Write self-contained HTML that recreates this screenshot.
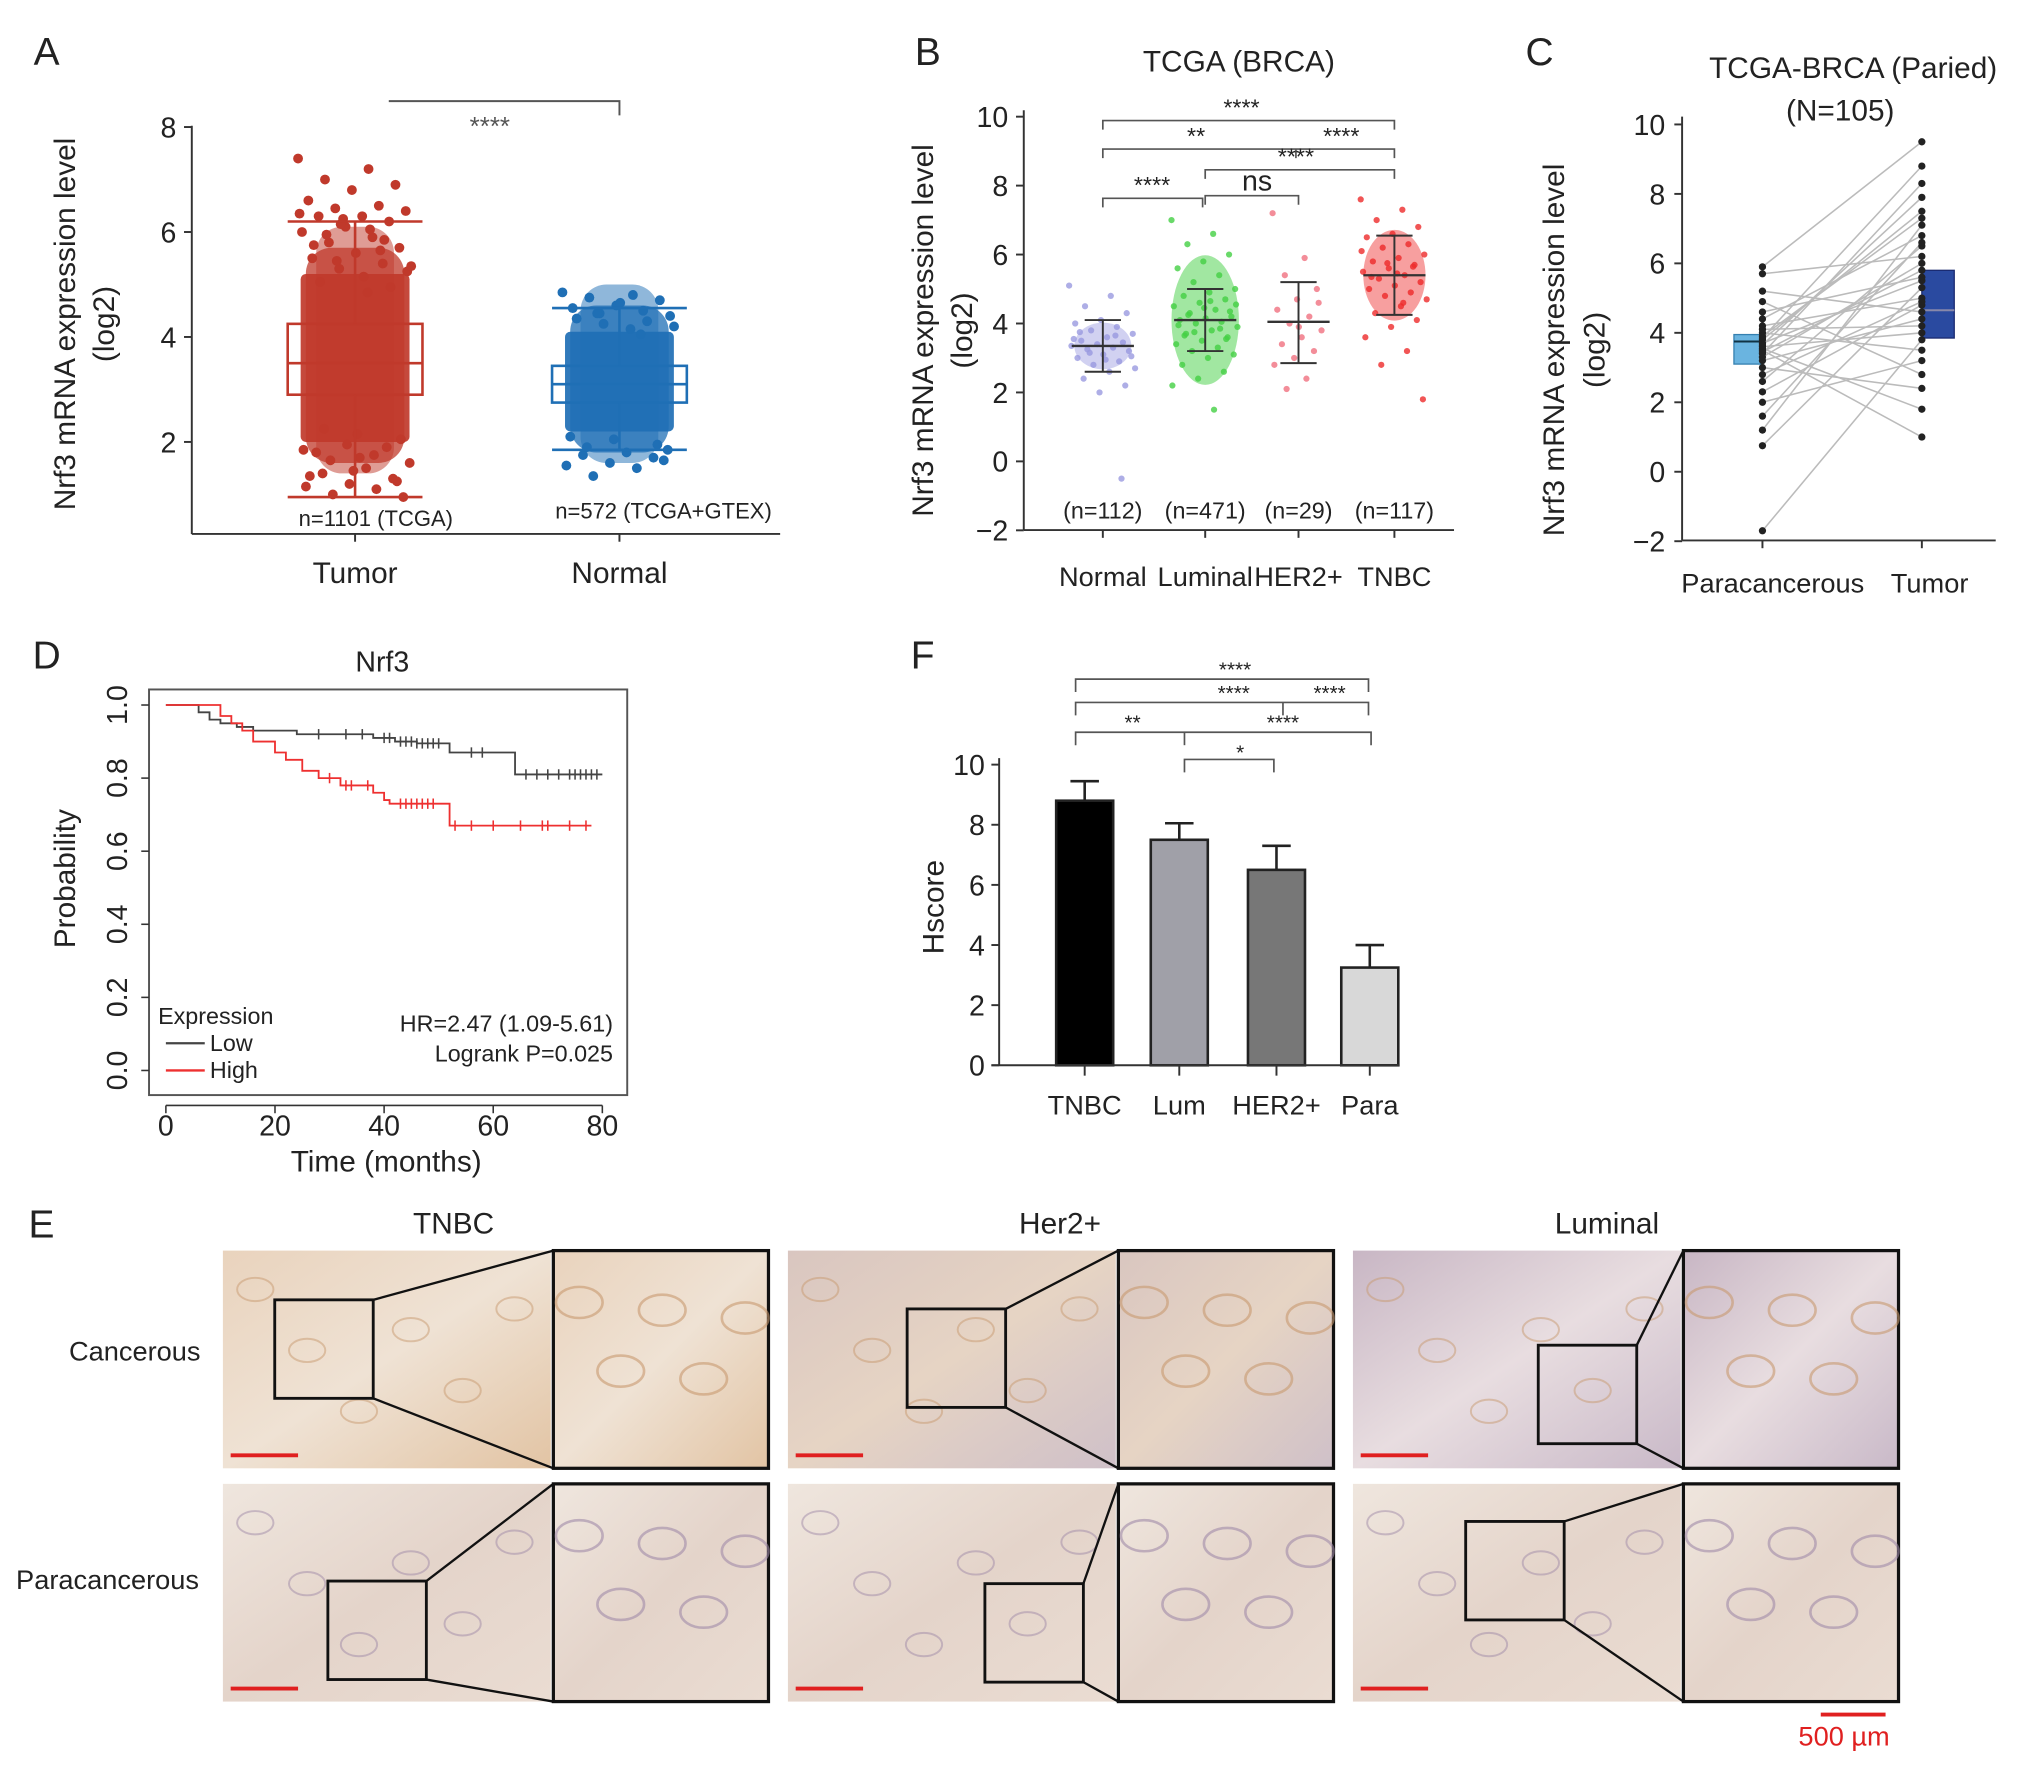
<!DOCTYPE html>
<html><head><meta charset="utf-8"><style>
html,body{margin:0;padding:0;background:#fff}
svg{display:block}
text{font-family:"Liberation Sans",Arial,sans-serif}
</style></head><body>
<svg id="fig" width="2032" height="1769" viewBox="0 0 1568 1365" xmlns="http://www.w3.org/2000/svg">
<defs>
<linearGradient id="tis1" x1="0" y1="0" x2="1" y2="1"><stop offset="0" stop-color="#e9d3bd"/><stop offset="0.5" stop-color="#efe2d4"/><stop offset="1" stop-color="#e2c4a4"/></linearGradient>
<linearGradient id="tis2" x1="0" y1="0" x2="1" y2="1"><stop offset="0" stop-color="#d9c6c0"/><stop offset="0.5" stop-color="#e6d4c4"/><stop offset="1" stop-color="#cfc0c8"/></linearGradient>
<linearGradient id="tis3" x1="0" y1="0" x2="1" y2="1"><stop offset="0" stop-color="#c8b6c4"/><stop offset="0.5" stop-color="#e8dde0"/><stop offset="1" stop-color="#c9b9c8"/></linearGradient>
<linearGradient id="tis4" x1="0" y1="0" x2="1" y2="1"><stop offset="0" stop-color="#efe6de"/><stop offset="0.5" stop-color="#e4d4ca"/><stop offset="1" stop-color="#eadcd2"/></linearGradient>
</defs>
<g id="root"></g>
</svg>
<script>
// ---------- Panel A data ----------
const aCategories=['Tumor','Normal'];
const aBoxStats=[[0.95,2.9,3.5,4.25,6.2],[1.85,2.75,3.1,3.45,4.55]];
const aDense=[[2.0,5.2],[2.2,4.1]];
const aTumorPoints=[7.4,7.2,7.0,6.9,6.8,6.6,6.5,6.45,6.4,6.3,6.3,6.2,6.1,6.0,5.9,5.8,5.7,5.6,5.5,5.4,5.3,1.6,1.5,1.4,1.3,1.2,1.15,1.1,1.0,0.95,1.7,1.8,1.9,6.25,6.35,6.05,5.95,1.25,1.45,1.35,5.65,5.45,5.25,5.15,5.05,4.95,1.95,1.85,1.75,1.65,2.05,2.15,5.75,5.85,6.15,5.35,4.85,2.25];
const aNormalPoints=[4.85,4.8,4.75,4.7,4.6,4.55,4.5,4.45,4.4,1.8,1.75,1.7,1.6,1.55,1.5,1.35,1.65,4.65,4.35,4.3,4.25,4.2,4.15,1.9,1.95,2.05,2.1,4.05,4.45,1.85];
// ---------- Panel B data ----------
const bCategories=['Normal','Luminal','HER2+','TNBC'];
const bCounts=['(n=112)','(n=471)','(n=29)','(n=117)'];
const bMeans=[3.35,4.1,4.05,5.4];
const bLow=[2.6,3.2,2.85,4.25];
const bHigh=[4.1,5.0,5.2,6.55];
const bPoints=[
 [5.1,4.8,4.5,4.3,4.1,4.0,3.9,3.8,3.7,3.6,3.5,3.45,3.4,3.35,3.3,3.25,3.2,3.1,3.0,2.9,2.8,2.7,2.6,2.4,2.2,2.0,3.55,3.65,3.15,3.05,2.95,3.75,-0.5],
 [7.0,6.6,6.3,6.0,5.8,5.6,5.4,5.2,5.0,4.9,4.8,4.7,4.6,4.5,4.4,4.3,4.2,4.15,4.1,4.05,4.0,3.9,3.8,3.7,3.6,3.5,3.4,3.3,3.2,3.1,3.0,2.8,2.6,2.4,2.2,1.5,4.25,4.35,4.45,3.95,3.85,3.75,4.55,4.65,3.65,3.55],
 [7.2,5.9,5.4,5.0,4.7,4.4,4.2,4.0,3.8,3.6,3.4,3.2,3.0,2.8,2.4,2.1,4.6,3.9],
 [7.6,7.3,7.0,6.8,6.6,6.5,6.3,6.2,6.0,5.9,5.8,5.7,5.6,5.5,5.4,5.3,5.2,5.1,5.0,4.9,4.8,4.7,4.5,4.3,4.1,3.9,3.6,3.2,2.8,1.8,5.45,5.35,5.65,5.75,6.1,4.6]
];
// ---------- Panel C data ----------
const cCategories=['Paracancerous','Tumor'];
const cBoxPara=[3.1,3.75,3.95];
const cBoxTumor=[3.85,4.65,5.8];
const cPara=[5.9,5.7,5.2,4.9,4.6,4.4,4.2,4.0,3.9,3.8,3.7,3.6,3.5,3.4,3.3,3.2,3.0,2.8,2.6,2.3,2.0,1.6,1.2,0.75,-1.7,3.85,3.65,3.45,4.1,3.55];
const cTumor=[9.5,8.3,7.9,7.5,7.1,6.8,6.5,6.2,6.0,5.8,5.5,5.3,5.0,4.8,4.6,4.4,4.2,4.0,3.8,3.5,3.2,2.8,2.4,1.8,1.0,8.8,7.3,6.6,5.6,4.9];
// ---------- Panel D data ----------
const dLowTimes=[0,6,8,10,13,16,24,38,42,46,52,64,80];
const dLowSurv=[1,0.98,0.96,0.95,0.94,0.93,0.92,0.91,0.90,0.895,0.87,0.81,0.81];
const dHighTimes=[0,10,12,14,16,20,22,25,28,32,38,40,41,51,52,78];
const dHighSurv=[1,0.97,0.95,0.93,0.90,0.87,0.85,0.82,0.80,0.78,0.76,0.74,0.73,0.73,0.67,0.67];
const dLowCens=[28,33,36,40,41,43,44,45,46,47,48,49,50,56,58,66,68,70,72,74,75,76,77,78,79];
const dHighCens=[30,33,34,37,43,44,45,46,47,48,49,53,56,60,65,69,70,74,77];
const dXTicks=[0,20,40,60,80];
const dYTicks=['0.0','0.2','0.4','0.6','0.8','1.0'];
// ---------- Panel F data ----------
const fCategories=['TNBC','Lum','HER2+','Para'];
const fValues=[8.8,7.5,6.5,3.25];
const fErr=[0.65,0.55,0.8,0.75];
const fYTicks=[0,2,4,6,8,10];

const NS='http://www.w3.org/2000/svg';
const root=document.getElementById('root');
function el(tag,attrs,parent,txt){const e=document.createElementNS(NS,tag);for(const k in attrs)e.setAttribute(k,attrs[k]);if(txt!==undefined)e.textContent=txt;(parent||root).appendChild(e);return e;}
function grp(name){const g=el('g',{});


return g;}
function txt(g,x,y,s,size,anchor,extra,color){const t=el('text',Object.assign({x:x,y:y,'font-size':size,'text-anchor':anchor||'middle',style:'fill:'+(color||'#222')},extra||{}),g,s);


return t;}
function line(g,x1,y1,x2,y2,c,w){return el('line',{x1,y1,x2,y2,stroke:c||'#333','stroke-width':w||1.5},g);}
function jit(i,w){const f=(i*0.618034)%1;return (f-0.5)*w;}

// ===== Panel A =====
(function(){
const g=grp('panel-a');
txt(g,36,50,'A',30);
const ay=v=>422-40.5*v, ax=[274,478];
line(g,148,97,148,412);line(g,148,412,602,412);
[2,4,6,8].forEach(v=>{line(g,142,ay(v),148,ay(v));txt(g,130,ay(v)+8,String(v),22);});
const cols=['#c0392b','#1f6fb5'];
aCategories.forEach((c,i)=>{
 const s=aBoxStats[i],x=ax[i],hw=52,col=cols[i];
 line(g,x,412,x,418);
 txt(g,x,450,c,23);
 const d=aDense[i];
 el('rect',{x:x-42,y:ay(d[1]),width:84,height:ay(d[0])-ay(d[1]),rx:4,fill:col,opacity:0.92},g);
 el('rect',{x:x-38,y:ay(d[1]+0.5),width:76,height:ay(d[0]-0.4)-ay(d[1]+0.5),rx:20,fill:col,opacity:0.75},g);
 el('rect',{x:x-30,y:ay(d[1]+0.9),width:60,height:ay(d[0]-0.6)-ay(d[1]+0.9),rx:20,fill:col,opacity:0.5},g);
 const pts=i===0?aTumorPoints:aNormalPoints;
 pts.forEach((v,j)=>{const p=el('circle',{cx:x+jit(j,88),cy:ay(v),r:3.8,fill:col},g);
  
  });
 el('rect',{x:x-hw,y:ay(s[3]),width:hw*2,height:ay(s[1])-ay(s[3]),fill:'none',stroke:col,'stroke-width':2},g);
 line(g,x-hw,ay(s[2]),x+hw,ay(s[2]),col,2);
 line(g,x,ay(s[0]),x,ay(s[1]),col,2);line(g,x,ay(s[3]),x,ay(s[4]),col,2);
 line(g,x-hw,ay(s[0]),x+hw,ay(s[0]),col,2);line(g,x-hw,ay(s[4]),x+hw,ay(s[4]),col,2);
});
txt(g,290,406,'n=1101 (TCGA)',17);txt(g,512,400,'n=572 (TCGA+GTEX)',17);
el('polyline',{points:'300,78 478,78 478,89',fill:'none',stroke:'#555','stroke-width':1.5},g);
txt(g,378,104,'****',20,'middle',{},'#555');
txt(g,0,0,'Nrf3 mRNA expression level',23,'middle',{transform:'translate(58,250) rotate(-90)'});
txt(g,0,0,'(log2)',23,'middle',{transform:'translate(88,250) rotate(-90)'});
})();

// ===== Panel B =====
(function(){
const g=grp('panel-b');
txt(g,716,50,'B',30);
txt(g,956,55,'TCGA (BRCA)',23);
const by=v=>356-26.6*v, bx=[851,930,1002,1076];
line(g,790,85,790,409);line(g,790,409,1122,409);
[-2,0,2,4,6,8,10].forEach(v=>{line(g,784,by(v),790,by(v));txt(g,778,by(v)+8,v<0?'\u22122':String(v),22,'end');});
const cols=['#9a9ae0','#44d044','#f07080','#ee2a2a'];
bCategories.forEach((c,i)=>{
 const x=bx[i];line(g,x,409,x,415);txt(g,x,452,c,21);txt(g,x,400,bCounts[i],18);
 bPoints[i].forEach((v,j)=>{const p=el('circle',{cx:x+jit(j,i===2?40:52),cy:by(v),r:2.4,fill:cols[i],opacity:0.8},g);
  
  });
 if(i===1){el('ellipse',{cx:x,cy:by(4.1),rx:26,ry:50,fill:cols[1],opacity:0.5},g);}
 if(i===3){el('ellipse',{cx:x,cy:by(5.4),rx:24,ry:35,fill:cols[3],opacity:0.45},g);}
 if(i===0){el('ellipse',{cx:x,cy:by(3.35),rx:22,ry:18,fill:cols[0],opacity:0.45},g);}
 line(g,x-24,by(bMeans[i]),x+24,by(bMeans[i]),'#333',1.8);
 line(g,x-14,by(bLow[i]),x+14,by(bLow[i]),'#333',1.5);line(g,x-14,by(bHigh[i]),x+14,by(bHigh[i]),'#333',1.5);
 line(g,x,by(bLow[i]),x,by(bHigh[i]),'#333',1.5);
});
const br=(x1,x2,y,t,tx)=>{el('polyline',{points:`${x1},${y+7} ${x1},${y} ${x2},${y} ${x2},${y+7}`,fill:'none',stroke:'#555','stroke-width':1.3},g);txt(g,tx,y-4,t,t==='ns'?22:18);};
br(851,1076,93,'****',958);br(851,1076,115,'**',923);line(g,1000,115,1000,122,'#555',1.3);
txt(g,1035,111,'****',18);br(930,1076,131,'****',1000);br(930,1002,151,'ns',970);br(851,928,153,'****',889);
txt(g,0,0,'Nrf3 mRNA expression level',23,'middle',{transform:'translate(720,255) rotate(-90)'});
txt(g,0,0,'(log2)',23,'middle',{transform:'translate(750,255) rotate(-90)'});
})();

// ===== Panel C =====
(function(){
const g=grp('panel-c');
txt(g,1188,50,'C',30);
txt(g,1430,60,'TCGA-BRCA (Paried)',23);txt(g,1420,93,'(N=105)',23);
const cy=v=>364-26.8*v, xp=1360, xt=1483;
line(g,1298,90,1298,417);line(g,1298,417,1540,417);
[-2,0,2,4,6,8,10].forEach(v=>{line(g,1292,cy(v),1298,cy(v));txt(g,1285,cy(v)+8,v<0?'\u22122':String(v),22,'end');});
line(g,xp,417,xp,423);line(g,xt,417,xt,423);
txt(g,xp+8,457,cCategories[0],21);txt(g,xt+6,457,cCategories[1],21);
cPara.forEach((v,j)=>{const l=line(g,xp,cy(v),xt,cy(cTumor[(j*7)%cTumor.length]),'#bbb',1.2);
 
 });
el('rect',{x:1338,y:cy(cBoxPara[2]),width:22,height:cy(cBoxPara[0])-cy(cBoxPara[2]),fill:'#6ab4e0',stroke:'#3580b0'},g);
line(g,1338,cy(cBoxPara[1]),1360,cy(cBoxPara[1]),'#134',1.5);
el('rect',{x:1483,y:cy(cBoxTumor[2]),width:25,height:cy(cBoxTumor[0])-cy(cBoxTumor[2]),fill:'#2a4aa0',stroke:'#1a2a70'},g);
line(g,1483,cy(cBoxTumor[1]),1508,cy(cBoxTumor[1]),'#88a',1.5);
cPara.forEach(v=>{const p=el('circle',{cx:xp,cy:cy(v),r:2.8,fill:'#222'},g);
 
 });
cTumor.forEach(v=>{const p=el('circle',{cx:xt,cy:cy(v),r:2.8,fill:'#222'},g);
 
 });
txt(g,0,0,'Nrf3 mRNA expression level',23,'middle',{transform:'translate(1207,270) rotate(-90)'});
txt(g,0,0,'(log2)',23,'middle',{transform:'translate(1238,270) rotate(-90)'});
})();

// ===== Panel D =====
(function(){
const g=grp('panel-d');
txt(g,36,516,'D',30);
txt(g,295,518,'Nrf3',22);
el('rect',{x:115,y:532,width:369,height:313,fill:'none',stroke:'#555','stroke-width':1.5},g);
const dx=t=>128+4.21*t, dy=p=>826-282*p;
dXTicks.forEach(t=>{line(g,dx(t),853,dx(t),859,'#333',1.2);txt(g,dx(t),876,String(t),22);});
line(g,dx(0),853,dx(80),853,'#333',1.2);
dYTicks.forEach(s=>{const y=dy(parseFloat(s));line(g,109,y,115,y,'#333',1.2);txt(g,0,0,s,22,'middle',{transform:`translate(98,${y}) rotate(-90)`});});
const path=(T,S)=>{let d=`M${dx(T[0])},${dy(S[0])}`;for(let i=1;i<T.length;i++){d+=` H${dx(T[i])} V${dy(S[i])}`;}return d;};
const lo=el('path',{d:path(dLowTimes,dLowSurv),fill:'none',stroke:'#444','stroke-width':1.4},g);


const hi=el('path',{d:path(dHighTimes,dHighSurv),fill:'none',stroke:'#ee3030','stroke-width':1.4},g);


const survAt=(T,S,t)=>{let s=S[0];for(let i=0;i<T.length;i++)if(T[i]<=t)s=S[i];return s;};
dLowCens.forEach(t=>line(g,dx(t),dy(survAt(dLowTimes,dLowSurv,t))-4,dx(t),dy(survAt(dLowTimes,dLowSurv,t))+4,'#444',1.2));
dHighCens.forEach(t=>line(g,dx(t),dy(survAt(dHighTimes,dHighSurv,t))-4,dx(t),dy(survAt(dHighTimes,dHighSurv,t))+4,'#ee3030',1.2));
txt(g,122,790,'Expression',18,'start');
line(g,128,805,158,805,'#444',1.8);txt(g,162,811,'Low',18,'start');
line(g,128,826,158,826,'#ee3030',1.8);txt(g,162,832,'High',18,'start');
txt(g,473,796,'HR=2.47 (1.09-5.61)',18,'end');txt(g,473,819,'Logrank P=0.025',18,'end');
txt(g,298,904,'Time (months)',23);
txt(g,0,0,'Probability',23,'middle',{transform:'translate(58,678) rotate(-90)'});
})();

// ===== Panel F =====
(function(){
const g=grp('panel-f');
txt(g,712,516,'F',30);
const fy=v=>822-23.2*v, fx=[837,910,985,1057];
const cols=['#000','#a0a0a8','#777','#d8d8d8'];
fCategories.forEach((c,i)=>{
 const x=fx[i];
 line(g,x,fy(fValues[i]),x,fy(fValues[i]+fErr[i]),'#222',2);line(g,x-11,fy(fValues[i]+fErr[i]),x+11,fy(fValues[i]+fErr[i]),'#222',2);
 const b=el('rect',{x:x-22,y:fy(fValues[i]),width:44,height:fy(0)-fy(fValues[i]),fill:cols[i],stroke:'#222','stroke-width':2},g);
 
 
 line(g,x,822,x,830);txt(g,x,860,c,21);
});
line(g,771,585,771,822);line(g,765,822,1080,822);
fYTicks.forEach(v=>{line(g,765,fy(v),771,fy(v));txt(g,760,fy(v)+8,String(v),22,'end');});
const br=(x1,x2,y)=>el('polyline',{points:`${x1},${y+10} ${x1},${y} ${x2},${y} ${x2},${y+10}`,fill:'none',stroke:'#555','stroke-width':1.3},g);
br(830,1056,524);txt(g,953,522,'****',16);
br(830,1056,542);line(g,990,542,990,552,'#555',1.3);txt(g,952,540,'****',16);txt(g,1026,540,'****',16);
br(830,1058,565);line(g,914,565,914,575,'#555',1.3);txt(g,874,563,'**',16);txt(g,990,563,'****',16);
br(914,983,586);txt(g,957,586,'*',16);
txt(g,0,0,'Hscore',23,'middle',{transform:'translate(728,700) rotate(-90)'});
})();

// ===== Panel E =====
(function(){
const g=grp('panel-e');
txt(g,32,955,'E',30);
txt(g,350,952,'TNBC',23);txt(g,818,952,'Her2+',23);txt(g,1240,952,'Luminal',23);
txt(g,104,1050,'Cancerous',21);txt(g,83,1226,'Paracancerous',21);
const cols=[172,608,1044], rows=[965,1145], W=421,H=168, insW=166;
const fills=[['url(#tis1)','url(#tis4)'],['url(#tis2)','url(#tis4)'],['url(#tis3)','url(#tis4)']];
const sq=[[[212,1003],[253,1220]],[[700,1010],[760,1222]],[[1187,1038],[1131,1174]]];
cols.forEach((cx,ci)=>rows.forEach((ry,ri)=>{
 const im=el('rect',{x:cx,y:ry,width:W-insW-2,height:H,fill:fills[ci][ri]},g);
 
 
 const ix=cx+W-insW;
 el('rect',{x:ix,y:ry,width:insW,height:H,fill:fills[ci][ri],stroke:'#111','stroke-width':2.5},g);
 for(let k=0;k<5;k++){el('ellipse',{cx:ix+20+k*32,cy:ry+40+((k*53)%100),rx:18,ry:12,fill:'none',stroke:ri?'#a08aa8':'#c89a70','stroke-width':2,opacity:0.6},g);}
 for(let k=0;k<6;k++){el('ellipse',{cx:cx+25+k*40,cy:ry+30+((k*47)%110),rx:14,ry:9,fill:'none',stroke:ri?'#a08aa8':'#c89a70','stroke-width':1.5,opacity:0.5},g);}
 const [sx,sy]=sq[ci][ri];
 el('rect',{x:sx,y:sy,width:76,height:76,fill:'none',stroke:'#111','stroke-width':2.2},g);
 line(g,sx+76,sy,ix,ry,'#111',1.8);line(g,sx+76,sy+76,ix,ry+H,'#111',1.8);
 line(g,cx+6,ry+H-10,cx+58,ry+H-10,'#e02020',3);
}));
line(g,1405,1323,1455,1323,'#e02020',3);
txt(g,1423,1347,'500 \u00b5m',21,'middle',{},'#e02020');
})();
</script>
</body></html>
